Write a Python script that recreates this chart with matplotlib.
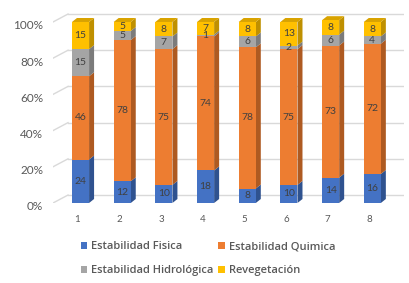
import matplotlib
matplotlib.use("Agg")
import matplotlib.pyplot as plt
from matplotlib.patches import Polygon
from matplotlib.transforms import ScaledTranslation

plt.rcParams['font.family'] = ['Lato', 'DejaVu Sans']

# data (percent of each column)
columns = [1, 2, 3, 4, 5, 6, 7, 8]
series_names = ['Estabilidad Fisica', 'Estabilidad Quimica',
                'Estabilidad Hidrológica', 'Revegetación']
fisica = [24, 12, 10, 18, 8, 10, 14, 16]
quimica = [46, 78, 75, 74, 78, 75, 73, 72]
hidrologica = [15, 5, 7, 1, 6, 2, 6, 4]
revegetacion = [15, 5, 8, 7, 8, 13, 8, 8]
ytick_vals = [0, 20, 40, 60, 80, 100]

front = ['#4472C4', '#ED7D31', '#A5A5A5', '#FFC000']
side = ['#2F528F', '#AE5A21', '#7B7B7B', '#BF9000']
top_col = ['#3A62AA', '#C96A28', '#8E8E8E', '#D9A300']

fig = plt.figure(figsize=(4.1, 2.83), dpi=100)
ax = fig.add_axes([0.1293, 0.2827, 0.855, 0.678])
ax.set_xlim(0.34, 8.75)
ax.set_ylim(0, 106)

# 3D look: offsets in data units
bw = 0.41
ddx, ddy = 0.12, 2.2      # bar depth
gdx, gdy = 0.36, 4.4      # back wall

for v in ytick_vals:
    ax.plot([0.34 + gdx, 8.75], [v + gdy, v + gdy], color='#D9D9D9', lw=1, zorder=0)
    ax.plot([0.34, 0.34 + gdx], [v, v + gdy], color='#D9D9D9', lw=1, zorder=0)

series = [fisica, quimica, hidrologica, revegetacion]
handles = []
bottoms = [0] * len(columns)
for k, vals in enumerate(series):
    h = ax.bar(columns, vals, bw, bottom=bottoms, color=front[k], zorder=3,
               label=series_names[k])
    handles.append(h)
    for i, x in enumerate(columns):
        y0 = bottoms[i]
        y1 = y0 + vals[i]
        xr = x + bw / 2
        ax.add_patch(Polygon([(xr, y0), (xr + ddx, y0 + ddy), (xr + ddx, y1 + ddy), (xr, y1)],
                             closed=True, facecolor=side[k], edgecolor='none', zorder=2))
        if k == len(series) - 1:
            xl = x - bw / 2
            ax.add_patch(Polygon([(xl, y1), (xl + ddx, y1 + ddy), (xr + ddx, y1 + ddy), (xr, y1)],
                                 closed=True, facecolor=top_col[k], edgecolor='none', zorder=2))
        ax.text(x, y0 + vals[i] / 2, str(vals[i]), ha='center', va='center',
                fontsize=7.5, color='#404040', zorder=4)
    bottoms = [b + v for b, v in zip(bottoms, vals)]

ax.set_xticks(columns)
ax.set_xticklabels([str(c) for c in columns])
ax.set_yticks(ytick_vals)
ax.set_yticklabels([f'{v}%' for v in ytick_vals])
ax.tick_params(axis='y', length=0, pad=7, labelsize=8.5, labelcolor='#595959')
ax.tick_params(axis='x', length=0, pad=9, labelsize=7, labelcolor='#595959')
for lab in ax.get_yticklabels():
    lab.set_transform(lab.get_transform() + ScaledTranslation(0, -3 / 100, fig.dpi_scale_trans))
for lab in ax.get_xticklabels():
    lab.set_transform(lab.get_transform() + ScaledTranslation(-3 / 100, 0, fig.dpi_scale_trans))
for s in ax.spines.values():
    s.set_visible(False)

# row-wise legend order as in the reference
order = [0, 2, 1, 3]
leg = fig.legend([handles[i] for i in order], [series_names[i] for i in order],
                 loc='upper left', bbox_to_anchor=(0.183, 0.167), ncol=2, frameon=False,
                 prop={'family': 'Open Sans', 'size': 8, 'weight': 'semibold'},
                 handlelength=0.6, handleheight=0.6, handletextpad=0.35,
                 columnspacing=0.4, labelspacing=1.15, borderpad=0)
for t in leg.get_texts():
    t.set_color('#595959')

fig.savefig('out.png', dpi=100)
